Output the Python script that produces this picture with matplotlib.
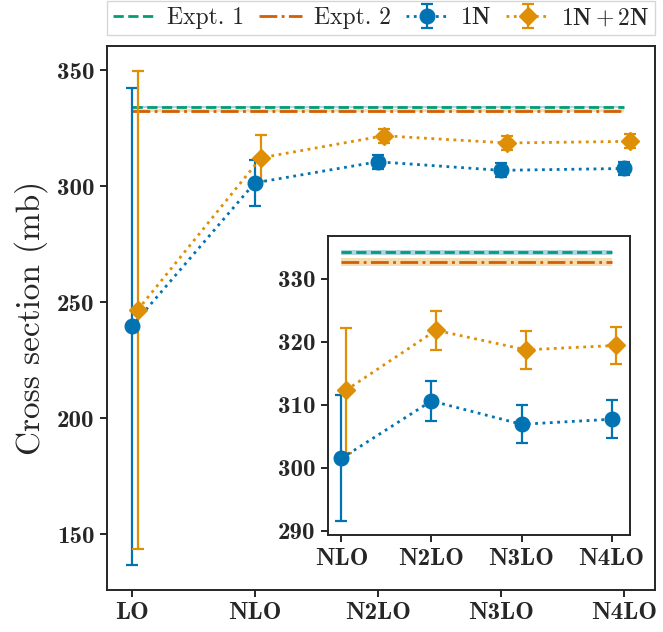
import numpy as np
import matplotlib
matplotlib.use("Agg")
import matplotlib.pyplot as plt
import seaborn as sns

sns.set_style("ticks")
plt.rcParams["font.family"] = ["cmr10", "DejaVu Serif"]
plt.rcParams["mathtext.fontset"] = "cm"
plt.rcParams["axes.formatter.use_mathtext"] = True

pal = sns.color_palette("colorblind")

# dados
ordens = ["LO", "NLO", "N2LO", "N3LO", "N4LO"]
sigma_1n = [239.6, 301.5, 310.6, 306.9, 307.7]
erro_1n = [103.0, 10.0, 3.1, 3.0, 3.0]
sigma_12n = [246.8, 312.3, 321.8, 318.7, 319.4]
erro_12n = [103.0, 9.9, 3.1, 3.0, 3.0]

expt1, expt1_err = 334.2, 0.4
expt2, expt2_err = 332.6, 0.6

main_yticks = [150, 200, 250, 300, 350]
inset_yticks = [290, 300, 310, 320, 330]

desloc = 0.05
x = np.arange(len(ordens))

fig = plt.figure(figsize=(6.63, 6.32), dpi=100)
ax = fig.add_axes([0.161, 0.0665, 0.827, 0.8605])
axins = ax.inset_axes([0.403, 0.101, 0.551, 0.550])


def desenha(a, idx):
    xx = x[idx]
    lo, hi = xx[0], xx[-1]
    a.hlines(expt1, lo, hi, color=pal[2], ls="--", lw=2, zorder=4, label="Expt. 1")
    a.fill_between([lo, hi], expt1 - expt1_err, expt1 + expt1_err,
                   color=pal[0], alpha=0.3, lw=0, zorder=3)
    a.hlines(expt2, lo, hi, color=pal[3], ls="-.", lw=2, zorder=4, label="Expt. 2")
    a.fill_between([lo, hi], expt2 - expt2_err, expt2 + expt2_err,
                   color=pal[1], alpha=0.3, lw=0, zorder=3)
    a.errorbar(xx, np.array(sigma_1n)[idx], yerr=np.array(erro_1n)[idx],
               fmt="o:", color=pal[0], ms=10.5, lw=2, elinewidth=1.6,
               capsize=4, capthick=1.6, label=r"$\mathbf{1N}$", zorder=5)
    a.errorbar(xx + desloc, np.array(sigma_12n)[idx], yerr=np.array(erro_12n)[idx],
               fmt="D:", color=pal[1], ms=9, lw=2, elinewidth=1.6,
               capsize=4, capthick=1.6, label=r"$\mathbf{1N} + \mathbf{2N}$", zorder=5)
    for s in a.spines.values():
        s.set_linewidth(1.4)
        s.set_color("#262626")
    a.tick_params(width=1.4, length=5, color="#262626", pad=4)


desenha(ax, slice(0, 5))
desenha(axins, slice(1, 5))

fs_tick = 18
ax.set_xticks(x, ordens, fontfamily="cmb10", fontsize=fs_tick)
ax.set_yticks(main_yticks, [str(v) for v in main_yticks], fontfamily="cmb10", fontsize=fs_tick)
ax.set_ylabel("Cross section (mb)", fontsize=24, labelpad=6)

axins.set_xticks(x[1:], ordens[1:], fontfamily="cmb10", fontsize=fs_tick)
axins.set_yticks(inset_yticks, [str(v) for v in inset_yticks], fontfamily="cmb10", fontsize=fs_tick)

ax.legend(loc="lower left", bbox_to_anchor=(0, 1.02, 1, 0.1), mode="expand",
          ncol=4, fontsize=17, frameon=True, fancybox=False, borderaxespad=0,
          borderpad=0.25, handlelength=1.8, handletextpad=0.5, columnspacing=0.8)

fig.savefig("out.png", dpi=100)
